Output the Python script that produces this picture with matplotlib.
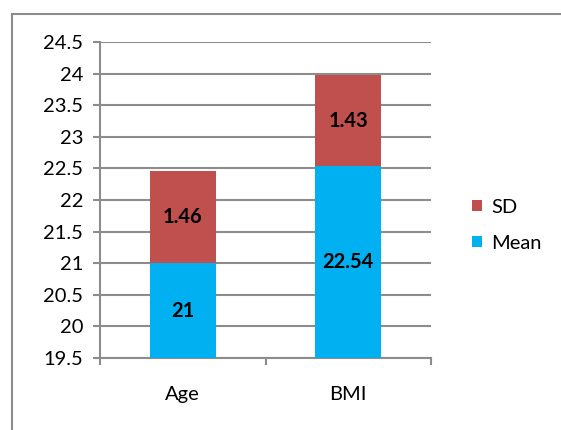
import matplotlib.pyplot as plt
from matplotlib.patches import Rectangle

plt.rcParams['font.family'] = ['Lato', 'DejaVu Sans']

categories = ['Age', 'BMI']
mean_vals = [21, 22.54]
sd_vals = [1.46, 1.43]
mean_labels = ['21', '22.54']
sd_labels = ['1.46', '1.43']

grey = '#8c8c8c'
col_mean = '#00b0f0'
col_sd = '#c0504d'
fs = 14.5

fig = plt.figure(figsize=(5.61, 4.30), dpi=100)
# outer chart border
fig.patches.append(Rectangle((12 / 561, -0.1), 1.0, (430 - 14) / 430 + 0.1,
                             transform=fig.transFigure, fill=False,
                             edgecolor=grey, lw=1.5))

ax = fig.add_axes([100 / 561, 72 / 430, 331 / 561, 316 / 430])

x = range(len(categories))
base = 19.5
ax.bar(x, [m - base for m in mean_vals], bottom=base, width=0.4,
       color=col_mean, label='Mean', zorder=3)
ax.bar(x, sd_vals, bottom=mean_vals, width=0.4, color=col_sd,
       label='SD', zorder=3)

for i in x:
    ax.text(i, (base + mean_vals[i]) / 2, mean_labels[i], ha='center',
            va='center', fontsize=fs, fontweight='bold', zorder=4)
    ax.text(i, mean_vals[i] + sd_vals[i] / 2, sd_labels[i], ha='center',
            va='center', fontsize=fs, fontweight='bold', zorder=4)

ax.set_xlim(-0.5, 1.5)
ax.set_ylim(19.5, 24.5)
yt = [19.5 + 0.5 * k for k in range(11)]
ax.set_yticks(yt)
ax.set_yticklabels(['%g' % v for v in yt], fontsize=fs)
ax.set_xticks(list(x))
ax.set_xticklabels(categories, fontsize=fs)
ax.set_xticks([-0.5, 0.5, 1.5], minor=True)
ax.tick_params(axis='x', which='major', length=0, pad=20)
ax.tick_params(axis='x', which='minor', length=5, color=grey, width=1.5)
ax.tick_params(axis='y', length=5, color=grey, width=1.5, pad=7)
ax.yaxis.grid(True, color=grey, lw=1.5, zorder=0)
for s in ['top', 'right']:
    ax.spines[s].set_visible(False)
for s in ['left', 'bottom']:
    ax.spines[s].set_color(grey)
    ax.spines[s].set_linewidth(1.5)

h, l = ax.get_legend_handles_labels()
ax.legend(h[::-1], l[::-1], loc='center left', bbox_to_anchor=(1.125, 0.42),
          frameon=False, fontsize=fs, handlelength=0.5, handleheight=0.5,
          labelspacing=0.95, handletextpad=0.45, borderpad=0, borderaxespad=0)

fig.savefig('out.png', dpi=100)
